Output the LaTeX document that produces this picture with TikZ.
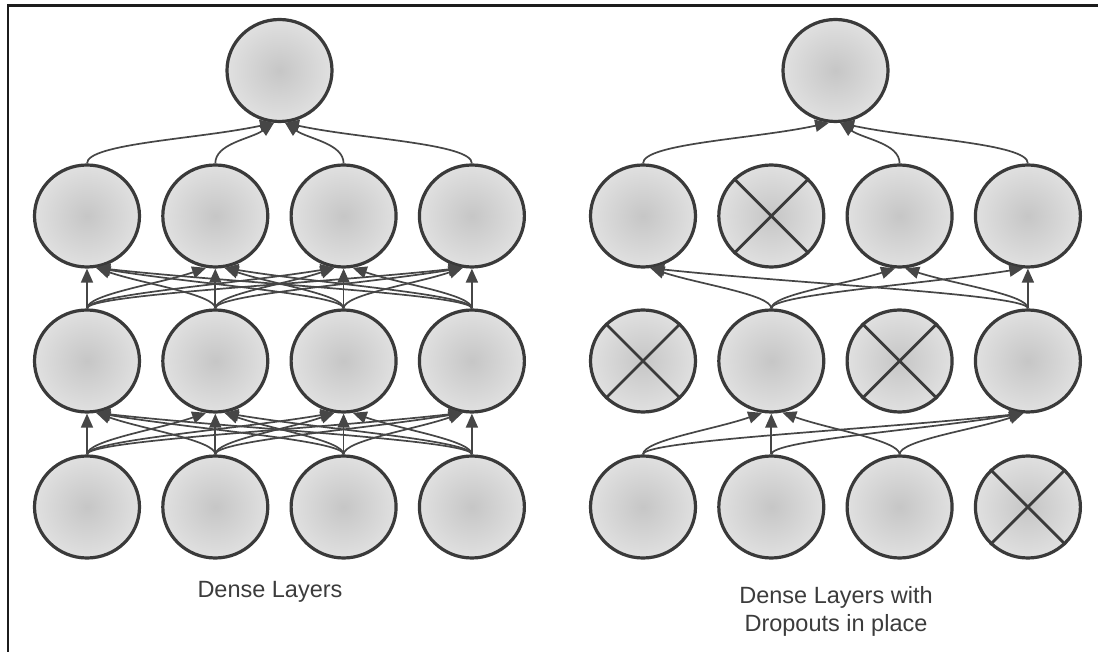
\documentclass[tikz,border=0pt]{standalone}
\usepackage{fontspec}
\setmainfont{Liberation Sans}
\usetikzlibrary{arrows.meta,shapes.geometric,calc}

\definecolor{ink}{RGB}{58,58,58}
\definecolor{wirec}{RGB}{70,70,70}
\definecolor{cin}{RGB}{198,198,198}
\definecolor{cout}{RGB}{224,224,224}
\definecolor{txt}{RGB}{60,60,60}
\definecolor{framec}{RGB}{28,28,28}

\begin{document}
\begin{tikzpicture}[x=1pt,y=1pt,
  neuron/.style={ellipse, minimum width=105pt, minimum height=102pt, inner sep=0pt,
    draw=ink, line width=3.2pt, inner color=cin, outer color=cout},
  cross/.style={draw=ink, line width=2.8pt},
  wire/.style={draw=wirec, line width=1.7pt, -{Triangle[length=14pt,width=12pt]}},
  rise/.style={to path={.. controls ($(\tikztostart)+(0,#1)$) and ($(\tikztotarget)!0.4!(\tikztostart)$) .. (\tikztotarget)}},
  caption/.style={text=txt, font=\fontsize{23.5}{28}\selectfont, inner sep=0pt}
]
\useasboundingbox (0,0) rectangle (1098,651);
\fill[white] (0,0) rectangle (1098,651);

% outer frame: top and left rules
\draw[framec, line width=2.8pt] (8,-10) -- (8,645.5) -- (1110,645.5);

% neurons of both networks
\foreach \s/\xo in {L/87, R/643} {
  \node[neuron] (\s1) at (\xo+192.5,580.5) {};
  \foreach \i/\n in {1/a,2/b,3/c,4/d} {
    \node[neuron] (\s2\n) at ({\xo+128.3*(\i-1)},435) {};
    \node[neuron] (\s3\n) at ({\xo+128.3*(\i-1)},290) {};
    \node[neuron] (\s4\n) at ({\xo+128.3*(\i-1)},144) {};
  }
}

% dropped neurons
\foreach \n in {R2b,R3a,R3c,R4d}
  \draw[cross] (\n.45) -- (\n.-135) (\n.135) -- (\n.-45);

% dense network: every neuron feeds every neuron of the next layer
\foreach \lo/\up in {3/2,4/3}
  \foreach \i/\a in {1/a,2/b,3/c,4/d}
    \foreach \j/\b in {1/a,2/b,3/c,4/d} {
      \ifnum\i=\j
        \draw[wire] (L\lo\a.north) -- (L\up\b.south);
      \else\ifnum\i<\j
        \draw[wire] (L\lo\a.north) to[rise=14] (L\up\b.-100);
      \else
        \draw[wire] (L\lo\a.north) to[rise=14] (L\up\b.-80);
      \fi\fi
    }
\foreach \a in {a,b} \draw[wire] (L2\a.north) to[rise=20] (L1.-96);
\foreach \a in {c,d} \draw[wire] (L2\a.north) to[rise=20] (L1.-84);

% dropout network: only surviving neurons are connected
\draw[wire] (R2a.north) to[rise=20] (R1.-97);
\draw[wire] (R2c.north) to[rise=20] (R1.-85);
\draw[wire] (R2d.north) to[rise=20] (R1.-85);

\draw[wire] (R3b.north) to[rise=14] (R2a.-82);
\draw[wire] (R3d.north) to[rise=14] (R2a.-82);
\draw[wire] (R3b.north) to[rise=14] (R2c.-95);
\draw[wire] (R3d.north) to[rise=14] (R2c.-84);
\draw[wire] (R3b.north) to[rise=14] (R2d.-95);
\draw[wire] (R3d.north) -- (R2d.south);

\draw[wire] (R4a.north) to[rise=14] (R3b.-100);
\draw[wire] (R4b.north) -- (R3b.south);
\draw[wire] (R4c.north) to[rise=14] (R3b.-78);
\draw[wire] (R4a.north) to[rise=14] (R3d.-95);
\draw[wire] (R4b.north) to[rise=14] (R3d.-95);
\draw[wire] (R4c.north) to[rise=14] (R3d.-95);

% captions
\node[caption, anchor=base] (capL) at (270,54) {Dense Layers};
\node[caption, anchor=base] (capR1) at (836,48) {Dense Layers with};
\node[caption, anchor=base] (capR2) at (836,20) {Dropouts in place};
\end{tikzpicture}
\end{document}
